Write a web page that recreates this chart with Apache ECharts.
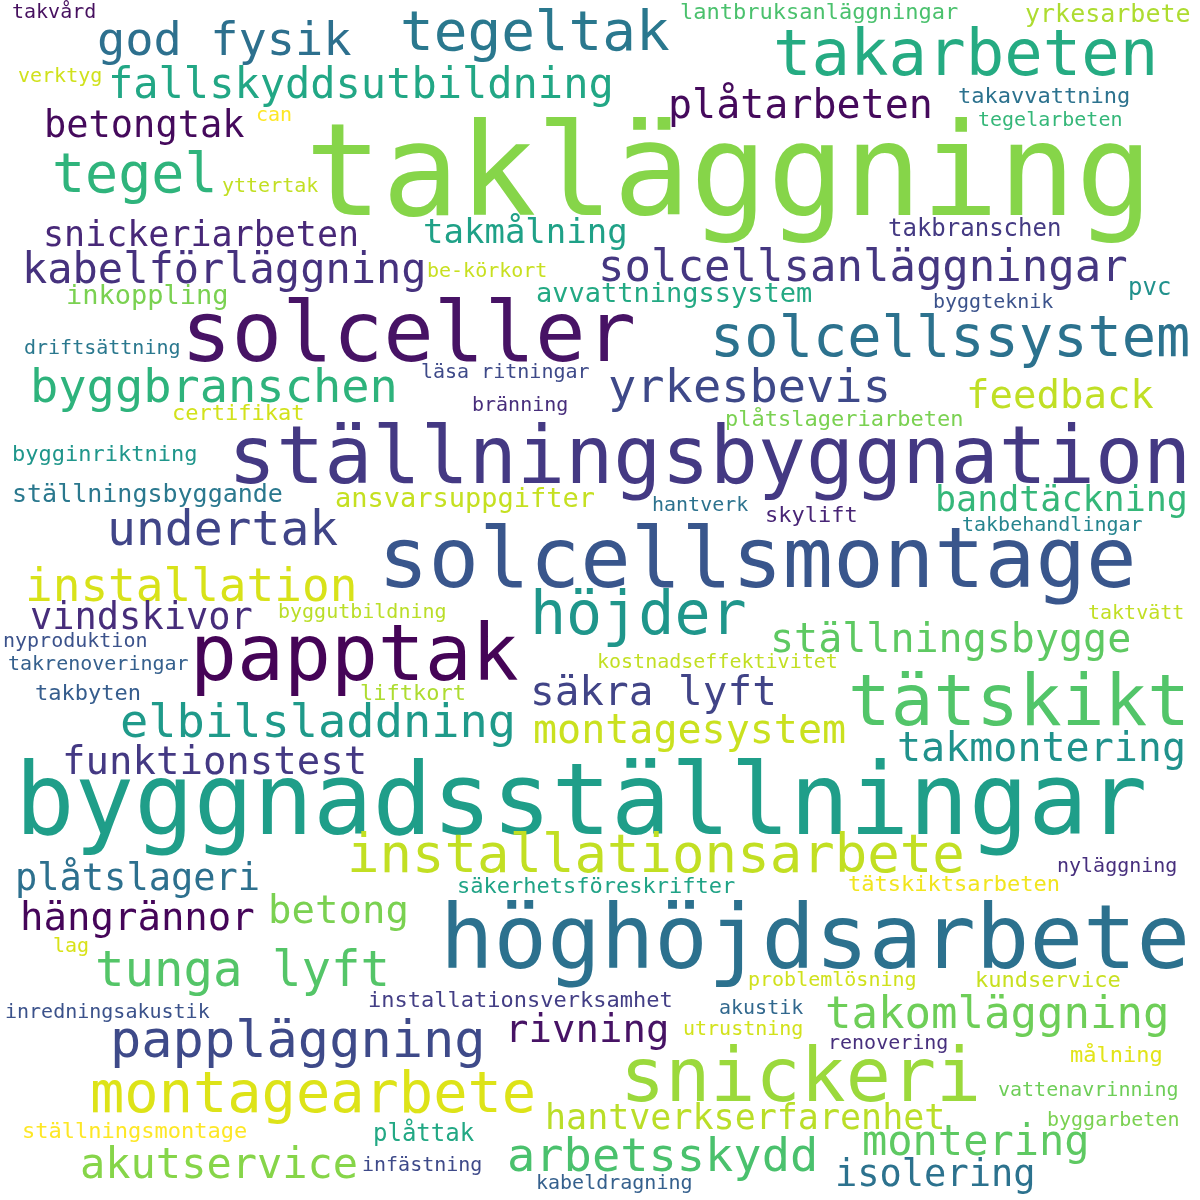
<!DOCTYPE html>
<html>
<head>
<meta charset="utf-8">
<script src="https://cdn.jsdelivr.net/npm/echarts@6/dist/echarts.min.js"></script>
<style>html,body{margin:0;padding:0;background:#fff}#c{width:1200px;height:1200px}</style>
</head>
<body>
<div id="c"></div>
<script>
// Word list and their weights (rendered font size)
const words = [
 "takläggning","solceller","ställningsbyggnation","solcellsmontage","byggnadsställningar","höghöjdsarbete",
 "papptak","snickeri","tätskikt","takarbeten","höjder","tegeltak","solcellssystem","installationsarbete",
 "pappläggning","montagearbete","tegel","tunga lyft","undertak","god fysik","byggbranschen","yrkesbevis",
 "elbilsladdning","arbetsskydd","installation","takomläggning","solcellsanläggningar","montering","kabelförläggning",
 "fallskyddsutbildning","akutservice","säkra lyft","plåtarbeten","montagesystem","ställningsbygge","takmontering",
 "funktionstest","hängrännor","betong","feedback","rivning","betongtak","vindskivor","plåtslageri","isolering",
 "snickeriarbeten","takmålning","bandtäckning","hantverkserfarenhet","avvattningssystem","ansvarsuppgifter",
 "inkoppling","ställningsbyggande","yrkesarbete","pvc","plåttak","takbranschen","lantbruksanläggningar",
 "takavvattning","bygginriktning","certifikat","plåtslageriarbeten","skylift","kostnadseffektivitet","takbyten",
 "liftkort","säkerhetsföreskrifter","tätskiktsarbeten","kundservice","installationsverksamhet","målning",
 "ställningsmontage","takvård","verktyg","tegelarbeten","can","yttertak","be-körkort","byggteknik","driftsättning",
 "läsa ritningar","bränning","hantverk","takbehandlingar","byggutbildning","taktvätt","nyproduktion",
 "takrenoveringar","nyläggning","lag","problemlösning","akustik","inredningsakustik","utrustning","renovering",
 "vattenavrinning","byggarbeten","infästning","kabeldragning"
];
const weights = [
 128,84,80,84,99,89,
 78,75,71,64,60,56,57,54,
 52,57,55,49,48,47,47,47,
 47,47,46,44,44,42,42,
 42,42,41,40,40,40,40,
 39,39,39,39,39,37,37,37,37,
 35,34,35,35,27,27,
 27,25,25,24,24,24,22,
 22,22,22,22,22,20,22,
 22,22,22,22,22,22,
 22,20,20,20,20,20,20,20,20,
 20,20,20,20,20,20,20,
 20,20,20,20,20,20,20,20,
 20,20,20,20
];
// Layout (left edge x, middle y) in the 0..1200 data space of the cloud
const layoutX = [
 305,181,228,378,15,440,
 190,620,848,773,530,400,710,347,
 110,90,52,95,107,97,30,608,
 120,507,25,825,598,862,22,
 108,80,530,668,533,770,897,
 62,20,268,966,505,44,30,15,835,
 43,423,935,545,536,335,
 66,12,1025,1128,373,888,680,
 958,12,172,725,765,597,35,
 360,457,848,975,368,1070,
 22,12,18,978,256,222,427,933,24,
 421,472,652,962,278,1088,3,
 8,1057,53,748,719,5,683,828,
 998,1047,362,536
];
const layoutY = [
 182,339,462,565,808,945,
 660,1082,707,58,618,35,341,858,
 1043,1097,178,973,533,43,390,390,
 725,1159,589,1017,270,1144,272,
 87,1167,694,108,733,642,751,
 764,920,913,398,1032,127,619,880,1176,
 237,234,502,1120,295,500,
 297,495,15,289,1135,230,13,
 97,455,414,420,516,663,694,
 694,887,885,981,1001,1056,
 1132,13,77,121,116,187,272,303,349,
 373,406,506,526,613,614,642,
 665,867,947,981,1009,1013,1030,1044,
 1091,1121,1166,1184
];
const colors = [
 "#86d549","#471365","#443983","#39568c","#1f9e89","#2c718e",
 "#450457","#9bd93c","#52c569","#25ab82","#1f968b","#2a788e","#2c728e","#c2df23",
 "#3e4a89","#dde318","#2fb47c","#54c568","#404588","#2d708e","#2eb37c","#3e4989",
 "#1f9a8a","#4ac16d","#d8e219","#6ece58","#453781","#5ec962","#46327e",
 "#22a785","#86d549","#414487","#450a5c","#cae11f","#5ec962","#20928c",
 "#443983","#450559","#7ad151","#c0df25","#471365","#450a5c","#472d7b","#2d708e","#2c728e",
 "#482878","#1fa187","#35b779","#bade28","#23a983","#c5e021",
 "#7ad151","#2a788e","#addc30","#21918c","#22a884","#443a83","#4ac16d",
 "#2c728e","#1f968b","#d2e21b","#7ad151","#482576","#c2df23","#365d8d",
 "#addc30","#20a386","#f1e51d","#c8e020","#433e85","#e2e418",
 "#fde725","#46105f","#d0e11c","#35b779","#fde725","#c2df23","#c8e020","#3b528b","#2a788e",
 "#3e4a89","#472d7b","#2c728e","#25848e","#bade28","#c2df23","#3b528b",
 "#35608d","#472f7d","#d8e219","#d0e11c","#31688e","#3b528b","#d2e21b","#472f7d",
 "#6ece58","#7ad151","#3e4a89","#35608d"
];

const data = words.map((w, i) => ({
  name: w,
  value: [layoutX[i], layoutY[i]],
  label: { fontSize: weights[i], color: colors[i] }
}));

const chart = echarts.init(document.getElementById('c'), null, { renderer: 'canvas' });
chart.setOption({
  backgroundColor: '#ffffff',
  animation: false,
  grid: { left: 0, right: 0, top: 0, bottom: 0 },
  xAxis: { type: 'value', min: 0, max: 1200, show: false },
  yAxis: { type: 'value', min: 0, max: 1200, inverse: true, show: false },
  series: [{
    type: 'scatter',
    symbolSize: 0,
    silent: true,
    itemStyle: { opacity: 1 },
    data: data,
    label: {
      show: true,
      position: 'inside',
      align: 'left',
      verticalAlign: 'middle',
      opacity: 1,
      fontFamily: 'DejaVu Sans Mono',
      formatter: p => p.name
    }
  }]
});
</script>
</body>
</html>
